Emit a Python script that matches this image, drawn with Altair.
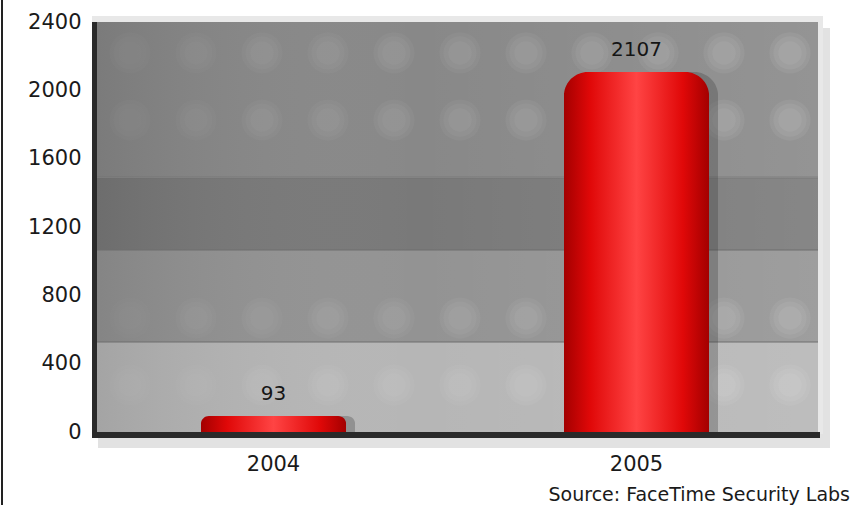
import altair as alt
import numpy as np
import pandas as pd

# Incident counts per year
years = ["2004", "2005"]
counts = [93, 2107]
y_ticks = [0, 400, 800, 1200, 1600, 2000, 2400]
source_note = "Source: FaceTime Security Labs"

# horizontal stripes of the backdrop (in axis units) and their shades
band_top = [2400, 1490, 1065, 527]
band_bottom = [1490, 1065, 527, 0]
band_shade = ["#888888", "#797979", "#939393", "#b6b6b6"]
# rows of soft light spots in the backdrop (in axis units)
spot_rows = [2219, 1826, 667, 275]

W, H = 726, 410
FONT = "DejaVu Sans"

bars_df = pd.DataFrame({"year": years, "count": counts})
frame_df = pd.DataFrame({"lo": [y_ticks[0]], "hi": [y_ticks[-1]]})
bands_df = pd.DataFrame({"top": band_top, "bottom": band_bottom, "shade": band_shade})

spot_x = np.arange(38, W, 66)
spots_df = pd.DataFrame(
    [(sx, ry, 0.015 + 0.045 * sx / W) for ry in spot_rows for sx in spot_x],
    columns=["px", "row", "alpha"],
)

x_enc = alt.X(
    "year:N",
    title=None,
    sort=years,
    scale=alt.Scale(paddingInner=0.6, paddingOuter=0.3),
    axis=alt.Axis(
        labelAngle=0, labelFont=FONT, labelFontSize=21, labelColor="#1a1a1a",
        labelPadding=21, ticks=False, domain=False,
    ),
)
y_scale = alt.Scale(domain=[y_ticks[0], y_ticks[-1]], nice=False)
y_axis = alt.Axis(
    values=y_ticks, format="d", labelFont=FONT, labelFontSize=21,
    labelColor="#1a1a1a", labelPadding=11, ticks=False, domain=False, grid=False,
)

# light frame and soft shadow around the plotting panel
shadow = alt.Chart(frame_df).mark_rect(color="#a0a0a0", opacity=0.3).encode(
    x=alt.value(6), x2=alt.value(W + 12),
    y=alt.value(6), y2=alt.value(H + 16),
)
frame = alt.Chart(frame_df).mark_rect(color="#e8e8e8").encode(
    x=alt.value(0), x2=alt.value(W + 5),
    y=alt.value(-6), y2=alt.value(H + 2),
)

# striped grey panel
bands = alt.Chart(bands_df).mark_rect().encode(
    x=alt.value(0), x2=alt.value(W),
    y=alt.Y("top:Q", scale=y_scale, axis=y_axis, title=None),
    y2="bottom:Q",
    color=alt.Color("shade:N", scale=None),
)
# darker towards the left, lighter towards the right
sheen = alt.Chart(frame_df).mark_rect(
    color=alt.Gradient(
        gradient="linear",
        stops=[
            alt.GradientStop(color="rgba(0,0,0,0.10)", offset=0),
            alt.GradientStop(color="rgba(255,255,255,0.0)", offset=0.45),
            alt.GradientStop(color="rgba(255,255,255,0.10)", offset=1),
        ],
        x1=0, y1=0, x2=1, y2=0,
    )
).encode(
    x=alt.value(0), x2=alt.value(W),
    y=alt.Y("hi:Q", scale=y_scale), y2="lo:Q",
)
seams = alt.Chart(bands_df.iloc[1:]).mark_rule(
    color="#6e6e6e", strokeWidth=2, opacity=0.5,
).encode(x=alt.value(0), x2=alt.value(W), y=alt.Y("top:Q", scale=y_scale))


def spot_layer(size):
    return alt.Chart(spots_df).mark_circle(color="#ffffff", size=size).encode(
        x=alt.X("px:Q", scale=None, axis=None),
        y=alt.Y("row:Q", scale=y_scale),
        opacity=alt.Opacity("alpha:Q", scale=None, legend=None),
    )


spots = alt.layer(spot_layer(1700), spot_layer(1100), spot_layer(550))

# drop shadow beside each bar
bar_shadow = alt.Chart(bars_df).mark_bar(
    color="#3a3a3a", opacity=0.3, xOffset=9,
    cornerRadiusTopLeft=24, cornerRadiusTopRight=24,
).encode(x=x_enc, y=alt.Y("count:Q", scale=y_scale))

# red cylinder-like bars
bars = alt.Chart(bars_df).mark_bar(
    cornerRadiusTopLeft=24, cornerRadiusTopRight=24,
    color=alt.Gradient(
        gradient="linear",
        stops=[
            alt.GradientStop(color="#a30000", offset=0),
            alt.GradientStop(color="#e00808", offset=0.18),
            alt.GradientStop(color="#ff4444", offset=0.5),
            alt.GradientStop(color="#e00808", offset=0.82),
            alt.GradientStop(color="#a30000", offset=1),
        ],
        x1=0, y1=0, x2=1, y2=0,
    ),
).encode(x=x_enc, y=alt.Y("count:Q", scale=y_scale))

labels = alt.Chart(bars_df).mark_text(
    font=FONT, fontSize=20, color="#151515", dy=-12, baseline="bottom",
).encode(x=x_enc, y=alt.Y("count:Q", scale=y_scale), text="count:Q")

# dark left edge and baseline of the panel
left_edge = alt.Chart(frame_df).mark_rule(color="#2a2a2a", strokeWidth=5).encode(
    x=alt.value(2.5), y=alt.value(0), y2=alt.value(H + 6),
)
base_edge = alt.Chart(frame_df).mark_rule(color="#2a2a2a", strokeWidth=6).encode(
    x=alt.value(0), x2=alt.value(W + 2), y=alt.value(H + 3),
)
outer_edge = alt.Chart(frame_df).mark_rule(color="#222222", strokeWidth=2).encode(
    x=alt.value(-90), y=alt.value(-22), y2=alt.value(H + 73),
)

source = alt.Chart(frame_df).mark_text(
    font=FONT, fontSize=19, color="#1a1a1a", align="right", baseline="middle",
    text=source_note,
).encode(x=alt.value(W + 32), y=alt.value(H + 63))

chart = alt.layer(
    shadow, frame, bands, sheen, seams, spots, bar_shadow, bars, labels,
    left_edge, base_edge, outer_edge, source,
).properties(
    width=W, height=H,
    autosize=alt.AutoSizeParams(type="none"),
    padding={"left": 92, "top": 22, "right": 35, "bottom": 73},
    background="#ffffff",
).configure_view(stroke=None)

chart.save("out.html", embed_options={"renderer": "svg", "actions": False})
